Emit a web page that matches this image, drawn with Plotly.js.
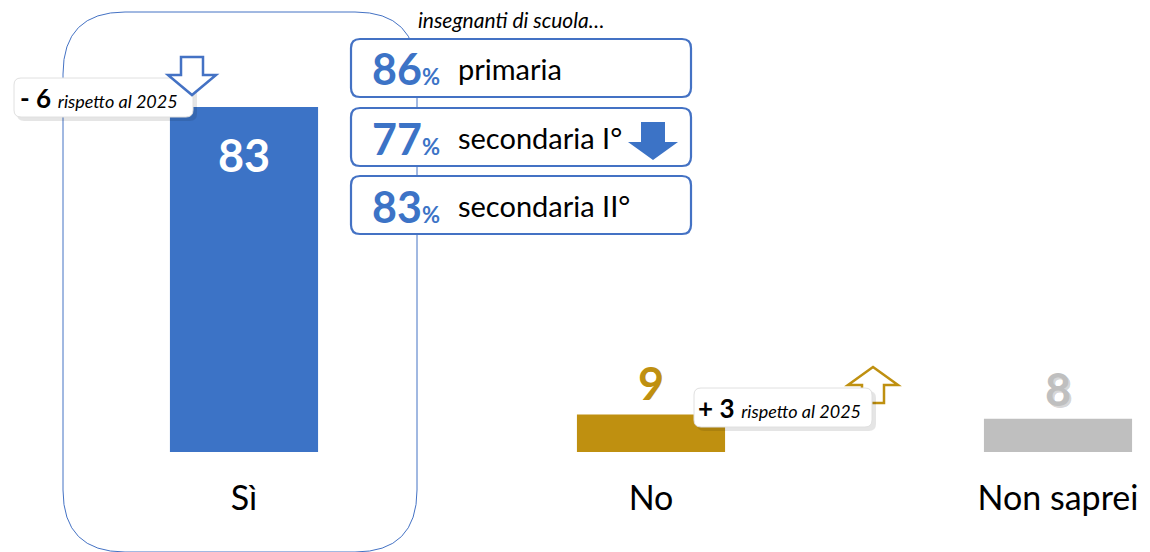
<!DOCTYPE html>
<html><head><meta charset="utf-8">
<script src="https://cdn.plot.ly/plotly-3.0.1.min.js"></script>
<style>html,body{margin:0;padding:0;background:#fff}</style>
</head><body>
<div id="chart" style="width:1150px;height:552px"></div>
<script>
const categories = ['Sì', 'No', 'Non saprei'];
const values = [83, 9, 8];
const barColors = ['#3C73C6', '#BF9010', '#BFBFBF'];
const labelColors = ['#FFFFFF', '#BF9010', '#BFBFBF'];
const schoolLevels = ['primaria', 'secondaria I°', 'secondaria II°'];
const schoolValues = [86, 77, 83];
const deltaText = ['- 6', '+ 3'];
const deltaNote = 'rispetto al 2025';
const boxTitle = 'insegnanti di scuola…';

const W = 1150, PLOT_H = 452;
const FONT = 'Lato, "Open Sans", sans-serif';
const px = x => x / W;
const py = y => (PLOT_H - y) / PLOT_H;

function roundRect(x0, y0, x1, y1, r) {
  return `M${px(x0 + r)},${py(y0)} L${px(x1 - r)},${py(y0)} Q${px(x1)},${py(y0)} ${px(x1)},${py(y0 + r)} ` +
    `L${px(x1)},${py(y1 - r)} Q${px(x1)},${py(y1)} ${px(x1 - r)},${py(y1)} L${px(x0 + r)},${py(y1)} ` +
    `Q${px(x0)},${py(y1)} ${px(x0)},${py(y1 - r)} L${px(x0)},${py(y0 + r)} Q${px(x0)},${py(y0)} ${px(x0 + r)},${py(y0)} Z`;
}
function poly(pts) {
  return 'M' + pts.map(p => `${px(p[0])},${py(p[1])}`).join(' L') + ' Z';
}
function downArrow(x0, y0, x1, y1, shaftW, headH) {
  const cx = (x0 + x1) / 2;
  return poly([[cx - shaftW / 2, y0], [cx + shaftW / 2, y0], [cx + shaftW / 2, y1 - headH], [x1, y1 - headH], [cx, y1], [x0, y1 - headH], [cx - shaftW / 2, y1 - headH]]);
}
function upArrow(x0, y0, x1, y1, shaftW, headH) {
  const cx = (x0 + x1) / 2;
  return poly([[cx, y0], [x1, y0 + headH], [cx + shaftW / 2, y0 + headH], [cx + shaftW / 2, y1], [cx - shaftW / 2, y1], [cx - shaftW / 2, y0 + headH], [x0, y0 + headH]]);
}

const shapes = [];
const P = (path, line, fill, layer) => shapes.push({type: 'path', xref: 'paper', yref: 'paper', path, line, fillcolor: fill || 'rgba(0,0,0,0)', layer: layer || 'above'});

// big rounded frame around "Sì"
P(roundRect(63, 12, 417, 552, 62), {color: '#4472C4', width: 1}, null, 'below');

// school boxes
const boxY = [39, 108, 176];
boxY.forEach(y => P(roundRect(351, y, 691, y + 58, 9), {color: '#4472C4', width: 2.2}, '#FFFFFF'));
// solid down arrow in box 2
P(downArrow(628, 122, 678, 160, 24, 18), {width: 0}, '#3C73C6');

// delta boxes with shadow
P(roundRect(17, 81, 197, 121, 7), {width: 0}, 'rgba(0,0,0,0.10)');
P(roundRect(14, 78, 193, 117, 7), {color: '#E0E0E0', width: 1}, '#FFFFFF');
P(downArrow(168, 57, 216, 95, 22, 20), {color: '#4472C4', width: 2.5}, 'rgba(255,255,255,1)');
P(upArrow(848, 367, 898, 403, 22, 18), {color: '#BF9010', width: 2.5}, '#FFFFFF');
P(roundRect(697, 391, 876, 431, 7), {width: 0}, 'rgba(0,0,0,0.10)');
P(roundRect(694, 388, 872, 427, 7), {color: '#E0E0E0', width: 1}, '#FFFFFF');

const annotations = [];
// value labels
const shifts = [-48, 32, 30];
categories.forEach((c, i) => {
  if (i === 2) {
    annotations.push({x: c, y: values[i], xref: 'x', yref: 'y', text: '<b>' + values[i] + '</b>', showarrow: false,
      yshift: shifts[i] - 2, xshift: 2, yanchor: 'middle', font: {family: FONT, size: 45, color: 'rgba(0,0,0,0.18)'}});
  }
  annotations.push({x: c, y: values[i], xref: 'x', yref: 'y', text: '<b>' + values[i] + '</b>', showarrow: false,
    yshift: shifts[i], yanchor: 'middle', font: {family: FONT, size: 45, color: labelColors[i]}});
});
// title of school boxes
annotations.push({xref: 'paper', yref: 'paper', x: px(416), y: py(19), xanchor: 'left', yanchor: 'middle', showarrow: false,
  text: '<i>' + boxTitle + '</i>', font: {family: FONT, size: 21, color: '#000'}});
schoolLevels.forEach((lvl, i) => {
  const yc = boxY[i] + 30;
  annotations.push({xref: 'paper', yref: 'paper', x: px(370), y: py(yc), xanchor: 'left', yanchor: 'middle', showarrow: false,
    text: '<b>' + schoolValues[i] + '<span style="font-size:22px">%</span></b>', font: {family: FONT, size: 43, color: '#3C73C6'}});
  annotations.push({xref: 'paper', yref: 'paper', x: px(456), y: py(yc - 1), xanchor: 'left', yanchor: 'middle', showarrow: false,
    text: lvl, font: {family: FONT, size: 29, color: '#000'}});
});
// delta notes
const deltaPos = [[18, 98], [696, 408]];
deltaText.forEach((d, i) => {
  annotations.push({xref: 'paper', yref: 'paper', x: px(deltaPos[i][0]), y: py(deltaPos[i][1]), xanchor: 'left', yanchor: 'middle', showarrow: false,
    text: '<b>' + d + '</b> <span style="font-size:18px"><i>' + deltaNote + '</i></span>', font: {family: FONT, size: 26, color: '#000'}});
});

const trace = {type: 'bar', x: categories, y: values, marker: {color: barColors}, hoverinfo: 'skip'};
const layout = {
  width: W, height: 552,
  margin: {l: 0, r: 0, t: 0, b: 100},
  paper_bgcolor: '#fff', plot_bgcolor: 'rgba(0,0,0,0)',
  showlegend: false,
  bargap: 0.636,
  xaxis: {range: [-244 / 407, (W - 244) / 407], showgrid: false, zeroline: false, showline: false, ticks: '',
    tickfont: {family: FONT, size: 34, color: '#000'}, ticklabelstandoff: 23},
  yaxis: {range: [0, PLOT_H / (345 / 83)], visible: false, showgrid: false, zeroline: false},
  shapes, annotations
};
Plotly.newPlot('chart', [trace], layout, {displayModeBar: false, staticPlot: true});
</script>
</body></html>
